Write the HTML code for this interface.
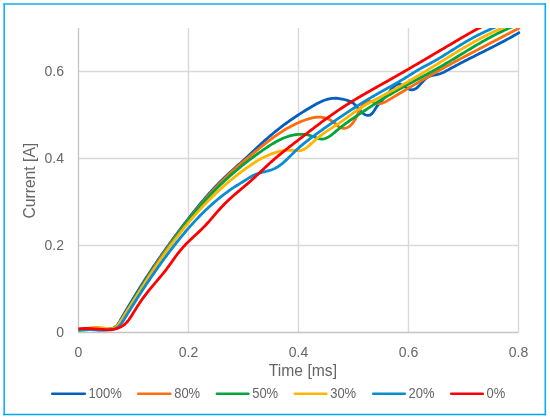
<!DOCTYPE html>
<html><head><meta charset="utf-8"><style>
html,body{margin:0;padding:0;background:#fff;}
svg{display:block;}
text{font-family:"Liberation Sans",sans-serif;fill:#666666;}
.t{font-size:14px;}
.ti{font-size:15.7px;}
.lg{font-size:13.8px;}
</style></head><body>
<svg width="550" height="420" viewBox="0 0 550 420">
<rect x="0" y="0" width="550" height="420" fill="#fff"/>
<line x1="188.5" y1="28" x2="188.5" y2="332.5" stroke="#D9D9D9" stroke-width="1.4"/><line x1="298.5" y1="28" x2="298.5" y2="332.5" stroke="#D9D9D9" stroke-width="1.4"/><line x1="408.5" y1="28" x2="408.5" y2="332.5" stroke="#D9D9D9" stroke-width="1.4"/><line x1="518.5" y1="28" x2="518.5" y2="332.5" stroke="#D9D9D9" stroke-width="1.4"/><line x1="78.5" y1="71.5" x2="518.5" y2="71.5" stroke="#D9D9D9" stroke-width="1.4"/><line x1="78.5" y1="158.5" x2="518.5" y2="158.5" stroke="#D9D9D9" stroke-width="1.4"/><line x1="78.5" y1="245.5" x2="518.5" y2="245.5" stroke="#D9D9D9" stroke-width="1.4"/><line x1="78.5" y1="28" x2="78.5" y2="332.5" stroke="#C4C4C4" stroke-width="1.3"/><line x1="78.5" y1="332.5" x2="518.5" y2="332.5" stroke="#C4C4C4" stroke-width="1.3"/>
<clipPath id="c"><rect x="78" y="28" width="442.5" height="306"/></clipPath>
<g clip-path="url(#c)"><path d="M78.49,329.37L80.02,329.28L81.53,329.22L83.02,329.20L84.49,329.20L85.94,329.23L87.38,329.27L88.81,329.33L90.24,329.40L91.66,329.48L93.07,329.56L94.49,329.63L95.92,329.70L97.35,329.76L98.79,329.80L100.24,329.83L101.71,329.83L103.19,329.80L104.70,329.74L106.21,329.64L107.73,329.48L109.23,329.26L110.69,328.95L112.10,328.54L113.45,328.03L114.71,327.38L115.86,326.60L116.88,325.67L117.76,324.57L118.53,323.35L119.27,322.10L120.01,320.84L120.75,319.58L121.49,318.32L122.22,317.06L122.96,315.80L123.70,314.54L124.44,313.27L125.17,312.01L125.91,310.75L126.66,309.48L127.40,308.22L128.14,306.96L128.89,305.70L129.64,304.44L130.39,303.18L131.14,301.92L131.89,300.67L132.65,299.42L133.41,298.16L134.17,296.91L134.93,295.67L135.69,294.42L136.46,293.17L137.23,291.93L138.00,290.69L138.78,289.44L139.55,288.21L140.33,286.97L141.11,285.73L141.89,284.50L142.68,283.26L143.46,282.03L144.25,280.80L145.04,279.57L145.84,278.34L146.63,277.12L147.43,275.89L148.23,274.67L149.03,273.45L149.83,272.23L150.64,271.01L151.45,269.79L152.26,268.58L153.07,267.36L153.88,266.15L154.70,264.94L155.52,263.73L156.34,262.52L157.16,261.32L157.99,260.11L158.82,258.91L159.64,257.71L160.48,256.50L161.31,255.31L162.14,254.11L162.98,252.91L163.82,251.72L164.66,250.52L165.51,249.33L166.35,248.14L167.20,246.95L168.05,245.76L168.91,244.58L169.76,243.39L170.62,242.21L171.48,241.03L172.34,239.85L173.20,238.67L174.06,237.49L174.93,236.31L175.80,235.14L176.67,233.97L177.54,232.79L178.42,231.62L179.30,230.45L180.18,229.29L181.06,228.12L181.94,226.95L182.83,225.79L183.72,224.63L184.61,223.47L185.50,222.31L186.39,221.15L187.29,219.99L188.19,218.84L189.09,217.69L189.99,216.53L190.89,215.38L191.80,214.24L192.71,213.09L193.62,211.95L194.54,210.80L195.46,209.66L196.38,208.53L197.30,207.39L198.23,206.26L199.16,205.13L200.09,204.01L201.03,202.88L201.97,201.76L202.92,200.65L203.87,199.54L204.82,198.43L205.77,197.32L206.73,196.22L207.70,195.12L208.67,194.03L209.64,192.94L210.62,191.85L211.60,190.77L212.59,189.70L213.58,188.63L214.58,187.56L215.58,186.50L216.59,185.44L217.60,184.39L218.61,183.35L219.64,182.31L220.66,181.27L221.70,180.24L222.74,179.22L223.78,178.20L224.83,177.19L225.89,176.19L226.95,175.19L228.02,174.19L229.09,173.20L230.17,172.22L231.25,171.24L232.33,170.26L233.42,169.28L234.51,168.31L235.60,167.34L236.69,166.37L237.78,165.40L238.88,164.42L239.97,163.45L241.06,162.48L242.15,161.51L243.24,160.53L244.33,159.55L245.41,158.57L246.49,157.58L247.57,156.59L248.65,155.59L249.72,154.60L250.79,153.59L251.86,152.59L252.92,151.58L253.99,150.58L255.05,149.57L256.12,148.57L257.18,147.56L258.25,146.56L259.32,145.56L260.39,144.56L261.46,143.57L262.54,142.58L263.62,141.59L264.70,140.62L265.79,139.65L266.88,138.68L267.98,137.72L269.08,136.77L270.19,135.83L271.30,134.89L272.42,133.96L273.54,133.03L274.67,132.11L275.80,131.20L276.93,130.29L278.08,129.39L279.22,128.49L280.37,127.61L281.53,126.72L282.69,125.85L283.85,124.98L285.02,124.11L286.20,123.25L287.38,122.40L288.56,121.55L289.75,120.71L290.94,119.87L292.14,119.04L293.35,118.22L294.55,117.40L295.77,116.59L296.99,115.78L298.21,114.97L299.44,114.18L300.67,113.39L301.91,112.60L303.15,111.82L304.40,111.04L305.65,110.27L306.91,109.50L308.17,108.74L309.44,107.99L310.72,107.24L311.99,106.49L313.28,105.75L314.56,105.02L315.86,104.30L317.16,103.60L318.47,102.92L319.78,102.27L321.11,101.65L322.44,101.07L323.78,100.53L325.13,100.03L326.49,99.59L327.86,99.20L329.24,98.87L330.63,98.60L332.03,98.41L333.45,98.28L334.88,98.24L336.32,98.27L337.77,98.38L339.23,98.56L340.69,98.79L342.15,99.08L343.61,99.40L345.05,99.76L346.49,100.15L347.91,100.57L349.29,101.05L350.62,101.59L351.89,102.24L353.08,103.00L354.19,103.89L355.23,104.89L356.21,105.97L357.16,107.12L358.11,108.29L359.06,109.46L360.03,110.61L361.06,111.71L362.15,112.72L363.33,113.63L364.60,114.41L365.93,115.00L367.27,115.35L368.57,115.42L369.79,115.15L370.90,114.54L371.93,113.65L372.88,112.55L373.78,111.30L374.65,109.97L375.50,108.61L376.35,107.31L377.21,106.08L378.08,104.92L378.96,103.82L379.86,102.75L380.77,101.71L381.69,100.69L382.63,99.67L383.58,98.64L384.55,97.58L385.53,96.49L386.52,95.35L387.53,94.14L388.56,92.87L389.60,91.54L390.66,90.20L391.74,88.90L392.84,87.67L393.95,86.55L395.09,85.60L396.24,84.85L397.41,84.33L398.61,84.11L399.83,84.21L401.07,84.60L402.34,85.22L403.64,85.98L404.96,86.81L406.31,87.64L407.66,88.42L409.02,89.08L410.35,89.56L411.67,89.81L412.94,89.77L414.17,89.43L415.37,88.85L416.54,88.06L417.67,87.10L418.78,86.02L419.86,84.86L420.92,83.66L421.97,82.47L423.01,81.32L424.05,80.23L425.10,79.22L426.19,78.30L427.32,77.48L428.52,76.77L429.79,76.19L431.14,75.73L432.55,75.37L434.01,75.07L435.48,74.80L436.96,74.52L438.42,74.20L439.84,73.80L441.21,73.32L442.55,72.77L443.86,72.17L445.14,71.52L446.41,70.83L447.67,70.14L448.93,69.43L450.19,68.74L451.46,68.04L452.73,67.35L454.00,66.67L455.28,65.98L456.56,65.30L457.84,64.62L459.12,63.95L460.41,63.28L461.70,62.61L462.99,61.94L464.29,61.27L465.58,60.61L466.88,59.94L468.18,59.28L469.48,58.62L470.79,57.97L472.09,57.31L473.39,56.65L474.70,55.99L476.01,55.34L477.31,54.68L478.62,54.03L479.93,53.37L481.24,52.72L482.55,52.06L483.86,51.41L485.17,50.75L486.47,50.09L487.78,49.43L489.09,48.77L490.40,48.11L491.70,47.45L493.01,46.79L494.31,46.12L495.62,45.45L496.92,44.78L498.22,44.11L499.52,43.43L500.81,42.75L502.11,42.07L503.40,41.39L504.69,40.70L505.98,40.01L507.26,39.32L508.55,38.62L509.83,37.92L511.10,37.21L512.38,36.50L513.65,35.79L514.92,35.07L516.18,34.35L517.44,33.62L518.70,32.89L519.95,32.15" fill="none" stroke="#005FBF" stroke-width="2.8" stroke-linejoin="round" stroke-linecap="butt"/><path d="M78.48,328.97L79.99,329.05L81.46,329.07L82.92,329.02L84.36,328.92L85.78,328.78L87.19,328.61L88.59,328.43L89.99,328.24L91.39,328.06L92.79,327.90L94.20,327.76L95.62,327.68L97.06,327.64L98.51,327.67L99.99,327.78L101.49,327.97L103.01,328.20L104.53,328.44L106.03,328.65L107.52,328.79L108.97,328.81L110.37,328.68L111.73,328.40L113.03,327.99L114.28,327.44L115.48,326.79L116.61,326.03L117.69,325.19L118.71,324.27L119.66,323.29L120.57,322.25L121.43,321.15L122.26,320.01L123.05,318.82L123.81,317.61L124.55,316.37L125.28,315.11L125.99,313.84L126.70,312.56L127.42,311.29L128.13,310.02L128.85,308.75L129.57,307.48L130.29,306.21L131.01,304.95L131.74,303.69L132.46,302.43L133.19,301.17L133.93,299.92L134.66,298.66L135.40,297.41L136.14,296.16L136.88,294.91L137.62,293.67L138.36,292.42L139.11,291.18L139.86,289.94L140.61,288.71L141.37,287.47L142.12,286.24L142.88,285.01L143.64,283.78L144.41,282.55L145.17,281.32L145.94,280.10L146.71,278.88L147.48,277.66L148.25,276.44L149.03,275.23L149.81,274.01L150.59,272.80L151.37,271.59L152.16,270.38L152.95,269.17L153.74,267.97L154.53,266.77L155.32,265.57L156.12,264.37L156.92,263.17L157.72,261.98L158.53,260.78L159.33,259.59L160.14,258.40L160.95,257.21L161.76,256.03L162.58,254.84L163.40,253.66L164.22,252.48L165.04,251.30L165.86,250.12L166.69,248.95L167.52,247.77L168.35,246.60L169.19,245.43L170.02,244.26L170.86,243.09L171.70,241.93L172.54,240.76L173.39,239.60L174.24,238.44L175.09,237.28L175.94,236.13L176.80,234.97L177.66,233.82L178.52,232.67L179.38,231.52L180.24,230.37L181.11,229.22L181.98,228.08L182.85,226.93L183.73,225.79L184.60,224.65L185.48,223.51L186.36,222.37L187.25,221.24L188.14,220.10L189.02,218.97L189.92,217.84L190.81,216.71L191.71,215.58L192.61,214.46L193.51,213.33L194.41,212.21L195.32,211.09L196.23,209.97L197.15,208.86L198.06,207.75L198.98,206.64L199.91,205.53L200.83,204.43L201.76,203.32L202.70,202.23L203.63,201.13L204.57,200.04L205.52,198.95L206.47,197.86L207.42,196.78L208.37,195.70L209.33,194.63L210.29,193.55L211.26,192.48L212.23,191.42L213.21,190.36L214.19,189.30L215.17,188.25L216.16,187.20L217.15,186.16L218.14,185.12L219.15,184.08L220.15,183.05L221.16,182.03L222.18,181.00L223.20,179.99L224.22,178.98L225.25,177.97L226.28,176.97L227.32,175.97L228.37,174.98L229.41,173.99L230.47,173.01L231.53,172.04L232.59,171.06L233.65,170.10L234.72,169.13L235.80,168.17L236.88,167.22L237.96,166.26L239.04,165.32L240.13,164.37L241.22,163.43L242.31,162.49L243.41,161.55L244.51,160.62L245.61,159.69L246.71,158.76L247.81,157.83L248.92,156.91L250.03,155.99L251.14,155.06L252.25,154.15L253.36,153.23L254.47,152.31L255.58,151.39L256.70,150.48L257.81,149.57L258.93,148.66L260.04,147.75L261.16,146.84L262.29,145.94L263.41,145.04L264.54,144.15L265.67,143.26L266.80,142.38L267.94,141.50L269.08,140.62L270.22,139.76L271.37,138.90L272.53,138.05L273.69,137.21L274.85,136.37L276.02,135.54L277.20,134.73L278.38,133.92L279.57,133.12L280.77,132.34L281.97,131.56L283.18,130.80L284.40,130.04L285.63,129.30L286.86,128.57L288.11,127.86L289.36,127.16L290.62,126.47L291.89,125.80L293.17,125.14L294.46,124.50L295.76,123.88L297.07,123.27L298.40,122.68L299.73,122.10L301.07,121.54L302.43,121.00L303.80,120.48L305.18,119.98L306.57,119.50L307.97,119.06L309.38,118.64L310.79,118.27L312.21,117.94L313.62,117.66L315.04,117.43L316.46,117.26L317.87,117.16L319.28,117.13L320.68,117.18L322.08,117.30L323.46,117.51L324.83,117.81L326.19,118.21L327.53,118.70L328.85,119.29L330.14,119.97L331.41,120.72L332.65,121.55L333.85,122.44L335.01,123.38L336.12,124.38L337.20,125.39L338.29,126.34L339.44,127.16L340.69,127.77L342.02,128.16L343.40,128.32L344.79,128.27L346.15,128.00L347.45,127.53L348.69,126.87L349.85,126.04L350.94,125.07L351.96,123.99L352.91,122.81L353.79,121.57L354.61,120.28L355.36,118.98L356.04,117.69L356.65,116.42L357.23,115.18L357.77,113.96L358.32,112.73L358.88,111.50L359.48,110.25L360.15,108.98L360.89,107.67L361.73,106.34L362.65,105.06L363.66,103.87L364.75,102.83L365.92,101.99L367.17,101.39L368.48,101.11L369.87,101.17L371.32,101.56L372.80,102.12L374.28,102.74L375.75,103.27L377.19,103.61L378.58,103.73L379.94,103.66L381.27,103.43L382.57,103.06L383.85,102.56L385.11,101.98L386.36,101.32L387.60,100.61L388.84,99.87L390.07,99.13L391.31,98.39L392.54,97.65L393.78,96.91L395.01,96.17L396.25,95.43L397.48,94.69L398.72,93.95L399.95,93.21L401.19,92.47L402.42,91.74L403.66,91.00L404.90,90.26L406.14,89.53L407.37,88.79L408.61,88.06L409.85,87.32L411.09,86.59L412.33,85.86L413.57,85.13L414.81,84.40L416.05,83.67L417.29,82.94L418.53,82.22L419.78,81.49L421.02,80.77L422.26,80.04L423.51,79.32L424.75,78.60L426.00,77.88L427.25,77.16L428.50,76.45L429.75,75.73L431.00,75.02L432.25,74.31L433.50,73.60L434.75,72.89L436.00,72.18L437.26,71.47L438.51,70.77L439.77,70.07L441.03,69.37L442.29,68.67L443.55,67.97L444.81,67.28L446.07,66.59L447.33,65.89L448.59,65.20L449.86,64.51L451.12,63.83L452.39,63.14L453.66,62.46L454.92,61.77L456.19,61.09L457.46,60.41L458.73,59.73L460.00,59.05L461.27,58.37L462.54,57.70L463.81,57.02L465.09,56.35L466.36,55.67L467.63,55.00L468.91,54.33L470.18,53.66L471.46,52.99L472.73,52.32L474.01,51.65L475.28,50.98L476.56,50.32L477.84,49.65L479.11,48.98L480.39,48.32L481.67,47.65L482.94,46.98L484.22,46.32L485.50,45.65L486.78,44.99L488.06,44.33L489.34,43.66L490.61,43.00L491.89,42.33L493.17,41.67L494.45,41.01L495.73,40.34L497.01,39.68L498.28,39.01L499.56,38.35L500.84,37.68L502.12,37.02L503.40,36.35L504.67,35.69L505.95,35.02L507.23,34.35L508.50,33.69L509.78,33.02L511.06,32.35L512.33,31.68L513.61,31.01L514.88,30.34L516.16,29.67L517.43,29.00L518.70,28.33L519.98,27.65" fill="none" stroke="#FF6D0C" stroke-width="2.8" stroke-linejoin="round" stroke-linecap="butt"/><path d="M78.48,330.45L79.95,330.33L81.39,330.21L82.80,330.10L84.20,329.99L85.59,329.89L86.97,329.80L88.34,329.71L89.70,329.63L91.07,329.56L92.44,329.50L93.82,329.45L95.21,329.41L96.62,329.38L98.05,329.36L99.50,329.35L100.97,329.36L102.47,329.37L103.97,329.37L105.47,329.34L106.95,329.28L108.42,329.17L109.84,329.00L111.22,328.75L112.55,328.41L113.80,327.96L114.98,327.40L116.10,326.74L117.14,325.99L118.13,325.14L119.06,324.21L119.95,323.22L120.79,322.16L121.59,321.04L122.36,319.87L123.11,318.66L123.83,317.43L124.53,316.16L125.23,314.89L125.91,313.60L126.60,312.31L127.29,311.03L127.99,309.76L128.69,308.49L129.39,307.24L130.10,305.98L130.81,304.74L131.53,303.50L132.25,302.27L132.97,301.04L133.70,299.82L134.43,298.60L135.16,297.39L135.90,296.19L136.64,294.98L137.38,293.79L138.13,292.59L138.88,291.40L139.63,290.22L140.38,289.04L141.14,287.86L141.90,286.68L142.66,285.50L143.42,284.33L144.19,283.16L144.96,281.99L145.72,280.83L146.50,279.66L147.27,278.50L148.04,277.33L148.82,276.17L149.60,275.01L150.37,273.85L151.15,272.68L151.93,271.52L152.71,270.36L153.49,269.19L154.28,268.02L155.06,266.86L155.84,265.69L156.63,264.52L157.42,263.35L158.20,262.19L158.99,261.02L159.78,259.85L160.57,258.68L161.36,257.51L162.16,256.34L162.95,255.17L163.75,254.00L164.55,252.83L165.35,251.67L166.15,250.50L166.95,249.33L167.76,248.17L168.57,247.00L169.38,245.84L170.19,244.68L171.00,243.52L171.82,242.36L172.64,241.20L173.46,240.05L174.29,238.90L175.11,237.74L175.94,236.59L176.77,235.45L177.61,234.30L178.45,233.16L179.29,232.02L180.13,230.88L180.98,229.75L181.83,228.61L182.68,227.49L183.53,226.36L184.39,225.24L185.26,224.12L186.12,223.00L186.99,221.89L187.87,220.78L188.74,219.67L189.63,218.57L190.51,217.47L191.40,216.38L192.29,215.29L193.19,214.20L194.09,213.12L194.99,212.04L195.90,210.96L196.81,209.89L197.73,208.82L198.65,207.76L199.57,206.70L200.50,205.64L201.43,204.59L202.36,203.54L203.30,202.50L204.24,201.46L205.19,200.42L206.14,199.39L207.09,198.36L208.05,197.33L209.01,196.31L209.98,195.30L210.95,194.28L211.93,193.27L212.90,192.27L213.89,191.27L214.87,190.27L215.86,189.28L216.86,188.29L217.86,187.30L218.86,186.32L219.87,185.35L220.88,184.37L221.89,183.40L222.91,182.44L223.93,181.48L224.96,180.52L225.99,179.57L227.03,178.62L228.07,177.67L229.11,176.73L230.16,175.80L231.21,174.87L232.27,173.94L233.33,173.01L234.39,172.09L235.46,171.18L236.54,170.27L237.61,169.36L238.70,168.46L239.78,167.56L240.87,166.66L241.97,165.77L243.07,164.88L244.17,164.00L245.28,163.12L246.39,162.25L247.51,161.38L248.63,160.51L249.75,159.65L250.88,158.80L252.01,157.94L253.15,157.10L254.30,156.25L255.44,155.41L256.59,154.58L257.75,153.75L258.91,152.92L260.08,152.10L261.25,151.28L262.42,150.46L263.60,149.65L264.78,148.85L265.97,148.05L267.16,147.25L268.36,146.47L269.56,145.69L270.77,144.93L271.98,144.17L273.20,143.43L274.42,142.71L275.66,142.01L276.89,141.32L278.14,140.66L279.39,140.02L280.65,139.41L281.91,138.82L283.19,138.26L284.47,137.73L285.76,137.23L287.05,136.76L288.36,136.33L289.67,135.94L290.99,135.58L292.32,135.27L293.67,134.99L295.02,134.76L296.38,134.58L297.74,134.44L299.12,134.35L300.51,134.31L301.91,134.32L303.32,134.38L304.73,134.51L306.15,134.69L307.56,134.93L308.98,135.23L310.38,135.60L311.78,136.03L313.17,136.53L314.54,137.07L315.90,137.61L317.25,138.11L318.58,138.54L319.90,138.86L321.20,139.03L322.48,139.02L323.74,138.85L324.99,138.54L326.22,138.09L327.43,137.52L328.63,136.86L329.82,136.11L330.99,135.28L332.14,134.41L333.29,133.49L334.42,132.55L335.54,131.60L336.65,130.66L337.75,129.73L338.85,128.83L339.93,127.94L341.02,127.07L342.12,126.22L343.22,125.37L344.32,124.54L345.44,123.71L346.57,122.89L347.71,122.07L348.86,121.26L350.01,120.46L351.17,119.66L352.33,118.87L353.50,118.08L354.67,117.29L355.84,116.50L357.02,115.72L358.19,114.93L359.36,114.15L360.54,113.37L361.71,112.59L362.89,111.81L364.06,111.03L365.23,110.25L366.40,109.47L367.58,108.69L368.75,107.92L369.92,107.14L371.10,106.37L372.28,105.60L373.45,104.83L374.63,104.07L375.81,103.31L376.99,102.55L378.17,101.79L379.36,101.04L380.54,100.29L381.73,99.54L382.92,98.80L384.11,98.06L385.31,97.33L386.51,96.60L387.71,95.87L388.91,95.15L390.12,94.43L391.33,93.72L392.54,93.01L393.76,92.31L394.98,91.61L396.20,90.92L397.42,90.23L398.65,89.54L399.88,88.85L401.11,88.17L402.34,87.49L403.58,86.82L404.81,86.14L406.05,85.47L407.29,84.80L408.53,84.13L409.77,83.47L411.01,82.80L412.25,82.14L413.49,81.47L414.74,80.81L415.98,80.14L417.23,79.48L418.47,78.82L419.71,78.16L420.96,77.49L422.20,76.83L423.44,76.16L424.69,75.49L425.93,74.83L427.17,74.16L428.41,73.48L429.65,72.81L430.88,72.13L432.12,71.46L433.36,70.77L434.59,70.09L435.82,69.40L437.05,68.71L438.27,68.02L439.50,67.32L440.72,66.62L441.94,65.91L443.16,65.20L444.37,64.49L445.59,63.77L446.80,63.05L448.01,62.33L449.22,61.61L450.43,60.89L451.64,60.16L452.84,59.43L454.05,58.70L455.25,57.97L456.46,57.24L457.66,56.50L458.86,55.77L460.07,55.03L461.27,54.30L462.47,53.57L463.67,52.83L464.88,52.10L466.08,51.37L467.28,50.64L468.49,49.91L469.70,49.18L470.90,48.45L472.11,47.73L473.32,47.01L474.53,46.29L475.74,45.57L476.95,44.85L478.17,44.14L479.38,43.44L480.60,42.73L481.82,42.03L483.04,41.33L484.27,40.64L485.50,39.95L486.73,39.27L487.96,38.59L489.20,37.92L490.44,37.25L491.68,36.59L492.92,35.93L494.17,35.28L495.42,34.63L496.68,34.00L497.94,33.37L499.20,32.74L500.47,32.12L501.74,31.51L503.02,30.91L504.30,30.32L505.58,29.73L506.87,29.15L508.17,28.58L509.46,28.02L510.77,27.47L512.08,26.93L513.39,26.39L514.71,25.87L516.04,25.35L517.37,24.85L518.71,24.36" fill="none" stroke="#00A53C" stroke-width="2.8" stroke-linejoin="round" stroke-linecap="butt"/><path d="M78.49,329.03L79.93,329.00L81.34,328.94L82.73,328.86L84.09,328.75L85.44,328.63L86.77,328.50L88.10,328.38L89.42,328.25L90.74,328.13L92.07,328.03L93.40,327.95L94.74,327.90L96.10,327.88L97.47,327.90L98.87,327.96L100.30,328.07L101.75,328.23L103.22,328.41L104.69,328.59L106.16,328.75L107.62,328.87L109.06,328.92L110.47,328.87L111.83,328.72L113.12,328.45L114.35,328.04L115.47,327.48L116.49,326.75L117.41,325.86L118.23,324.84L119.00,323.74L119.74,322.60L120.47,321.44L121.20,320.29L121.93,319.13L122.66,317.97L123.39,316.82L124.12,315.66L124.85,314.50L125.58,313.34L126.31,312.19L127.04,311.03L127.77,309.87L128.50,308.71L129.23,307.55L129.96,306.39L130.70,305.23L131.43,304.08L132.16,302.92L132.89,301.76L133.62,300.60L134.35,299.44L135.09,298.28L135.82,297.13L136.56,295.97L137.29,294.81L138.03,293.65L138.76,292.50L139.50,291.34L140.24,290.18L140.98,289.03L141.72,287.87L142.46,286.72L143.20,285.57L143.95,284.41L144.69,283.26L145.44,282.11L146.19,280.96L146.93,279.81L147.68,278.66L148.43,277.51L149.19,276.37L149.94,275.22L150.70,274.08L151.46,272.93L152.21,271.79L152.98,270.65L153.74,269.51L154.50,268.37L155.27,267.23L156.04,266.10L156.81,264.96L157.58,263.83L158.35,262.69L159.13,261.56L159.91,260.43L160.69,259.31L161.47,258.18L162.26,257.06L163.05,255.93L163.84,254.81L164.63,253.69L165.42,252.58L166.22,251.46L167.02,250.35L167.82,249.23L168.63,248.12L169.44,247.02L170.25,245.91L171.06,244.81L171.88,243.70L172.70,242.61L173.52,241.51L174.35,240.41L175.17,239.32L176.01,238.23L176.84,237.14L177.68,236.06L178.52,234.97L179.37,233.89L180.21,232.81L181.06,231.74L181.92,230.67L182.78,229.59L183.64,228.53L184.50,227.46L185.37,226.40L186.24,225.34L187.11,224.29L187.99,223.23L188.87,222.18L189.76,221.13L190.64,220.09L191.54,219.05L192.43,218.01L193.33,216.98L194.23,215.95L195.14,214.92L196.05,213.89L196.96,212.87L197.88,211.85L198.80,210.84L199.72,209.83L200.65,208.82L201.58,207.82L202.52,206.82L203.46,205.82L204.40,204.83L205.35,203.84L206.30,202.85L207.26,201.87L208.21,200.89L209.18,199.92L210.14,198.95L211.12,197.99L212.09,197.03L213.07,196.07L214.05,195.12L215.04,194.17L216.03,193.22L217.03,192.28L218.03,191.35L219.03,190.42L220.04,189.49L221.05,188.57L222.07,187.65L223.09,186.74L224.11,185.83L225.14,184.92L226.17,184.03L227.21,183.13L228.25,182.24L229.30,181.36L230.35,180.48L231.41,179.60L232.47,178.73L233.53,177.87L234.60,177.01L235.67,176.15L236.75,175.30L237.83,174.46L238.92,173.62L240.01,172.79L241.11,171.96L242.21,171.14L243.32,170.32L244.43,169.51L245.54,168.70L246.66,167.90L247.79,167.10L248.92,166.32L250.05,165.53L251.20,164.76L252.34,164.00L253.49,163.24L254.65,162.50L255.82,161.77L256.99,161.05L258.17,160.35L259.35,159.66L260.54,158.99L261.74,158.34L262.95,157.70L264.16,157.08L265.38,156.48L266.62,155.90L267.86,155.35L269.10,154.81L270.36,154.30L271.63,153.82L272.90,153.36L274.19,152.93L275.48,152.52L276.79,152.14L278.10,151.79L279.43,151.48L280.76,151.19L282.11,150.94L283.47,150.72L284.84,150.54L286.21,150.40L287.60,150.31L288.99,150.27L290.39,150.29L291.79,150.37L293.20,150.47L294.59,150.58L295.97,150.66L297.34,150.70L298.67,150.68L299.98,150.55L301.24,150.31L302.47,149.94L303.65,149.43L304.80,148.82L305.93,148.11L307.02,147.32L308.09,146.46L309.15,145.56L310.20,144.63L311.23,143.68L312.27,142.72L313.30,141.78L314.34,140.86L315.38,139.94L316.42,139.04L317.47,138.16L318.53,137.29L319.59,136.44L320.67,135.60L321.76,134.78L322.85,133.98L323.96,133.18L325.08,132.41L326.21,131.64L327.34,130.88L328.48,130.13L329.63,129.38L330.77,128.64L331.93,127.90L333.08,127.17L334.23,126.43L335.38,125.68L336.53,124.94L337.67,124.19L338.82,123.43L339.95,122.66L341.08,121.88L342.20,121.09L343.32,120.29L344.43,119.48L345.54,118.67L346.64,117.86L347.74,117.04L348.85,116.22L349.95,115.40L351.05,114.58L352.16,113.77L353.27,112.96L354.38,112.16L355.49,111.36L356.61,110.57L357.74,109.80L358.87,109.04L360.01,108.29L361.16,107.55L362.32,106.83L363.49,106.13L364.66,105.43L365.84,104.75L367.03,104.08L368.22,103.41L369.42,102.76L370.62,102.11L371.82,101.47L373.03,100.83L374.24,100.19L375.45,99.56L376.66,98.93L377.87,98.30L379.08,97.67L380.29,97.03L381.50,96.40L382.70,95.76L383.91,95.12L385.11,94.48L386.32,93.83L387.52,93.19L388.72,92.54L389.92,91.88L391.12,91.23L392.32,90.57L393.51,89.91L394.71,89.25L395.90,88.59L397.09,87.93L398.29,87.26L399.48,86.59L400.67,85.92L401.85,85.25L403.04,84.57L404.23,83.89L405.41,83.21L406.60,82.53L407.78,81.85L408.96,81.16L410.14,80.48L411.33,79.79L412.50,79.10L413.68,78.40L414.86,77.71L416.04,77.01L417.21,76.31L418.39,75.61L419.56,74.91L420.74,74.21L421.91,73.50L423.08,72.80L424.25,72.09L425.42,71.38L426.59,70.67L427.76,69.95L428.93,69.24L430.10,68.52L431.26,67.81L432.43,67.09L433.59,66.37L434.76,65.64L435.92,64.92L437.09,64.20L438.25,63.47L439.41,62.75L440.58,62.03L441.74,61.30L442.91,60.58L444.07,59.85L445.24,59.13L446.40,58.41L447.57,57.68L448.73,56.96L449.90,56.24L451.06,55.52L452.23,54.80L453.40,54.09L454.57,53.37L455.74,52.66L456.91,51.94L458.09,51.23L459.26,50.53L460.43,49.82L461.61,49.12L462.79,48.42L463.97,47.72L465.15,47.03L466.33,46.33L467.52,45.65L468.71,44.96L469.89,44.28L471.08,43.60L472.28,42.93L473.47,42.26L474.67,41.60L475.87,40.93L477.07,40.28L478.28,39.63L479.48,38.98L480.69,38.34L481.91,37.70L483.12,37.07L484.34,36.44L485.56,35.82L486.79,35.20L488.01,34.60L489.24,33.99L490.48,33.39L491.72,32.80L492.96,32.22L494.20,31.64L495.45,31.07L496.70,30.51L497.96,29.95L499.22,29.40L500.48,28.86L501.75,28.32L503.02,27.80L504.29,27.28L505.57,26.76L506.86,26.26L508.15,25.77" fill="none" stroke="#FFB600" stroke-width="2.8" stroke-linejoin="round" stroke-linecap="butt"/><path d="M78.53,329.61L79.89,329.54L81.24,329.50L82.58,329.48L83.91,329.47L85.24,329.49L86.57,329.51L87.89,329.55L89.21,329.60L90.53,329.65L91.85,329.72L93.17,329.78L94.50,329.84L95.83,329.90L97.18,329.96L98.52,330.02L99.88,330.06L101.25,330.09L102.63,330.11L104.03,330.12L105.44,330.11L106.86,330.08L108.30,330.02L109.72,329.91L111.13,329.75L112.49,329.51L113.79,329.18L115.03,328.74L116.18,328.19L117.25,327.53L118.26,326.78L119.20,325.94L120.08,325.02L120.92,324.04L121.72,323.00L122.49,321.92L123.23,320.80L123.95,319.66L124.66,318.50L125.37,317.35L126.08,316.19L126.79,315.03L127.50,313.88L128.21,312.72L128.93,311.57L129.64,310.42L130.35,309.27L131.07,308.12L131.78,306.98L132.50,305.83L133.22,304.69L133.94,303.55L134.66,302.41L135.38,301.27L136.10,300.13L136.83,298.99L137.55,297.86L138.28,296.73L139.01,295.59L139.74,294.46L140.47,293.33L141.20,292.21L141.93,291.08L142.67,289.96L143.40,288.83L144.14,287.71L144.88,286.59L145.62,285.47L146.36,284.35L147.11,283.24L147.86,282.12L148.60,281.01L149.35,279.90L150.11,278.79L150.86,277.68L151.62,276.57L152.37,275.47L153.13,274.36L153.90,273.26L154.66,272.16L155.43,271.06L156.20,269.96L156.97,268.86L157.74,267.77L158.52,266.67L159.29,265.58L160.07,264.49L160.86,263.40L161.64,262.31L162.43,261.22L163.22,260.14L164.01,259.05L164.81,257.97L165.61,256.89L166.41,255.81L167.21,254.73L168.02,253.65L168.83,252.58L169.64,251.50L170.46,250.43L171.27,249.36L172.10,248.29L172.92,247.22L173.75,246.16L174.58,245.09L175.41,244.03L176.25,242.97L177.09,241.91L177.93,240.86L178.78,239.80L179.63,238.75L180.48,237.71L181.34,236.66L182.20,235.62L183.06,234.58L183.93,233.54L184.80,232.51L185.68,231.48L186.56,230.45L187.44,229.43L188.33,228.41L189.22,227.39L190.11,226.38L191.01,225.37L191.92,224.37L192.82,223.37L193.73,222.37L194.65,221.38L195.57,220.39L196.49,219.41L197.42,218.43L198.36,217.45L199.29,216.49L200.23,215.52L201.18,214.56L202.13,213.61L203.09,212.66L204.05,211.72L205.01,210.78L205.98,209.85L206.96,208.92L207.94,208.00L208.92,207.09L209.91,206.18L210.91,205.28L211.91,204.38L212.91,203.49L213.92,202.61L214.94,201.74L215.96,200.87L216.99,200.00L218.02,199.15L219.05,198.30L220.10,197.46L221.14,196.62L222.20,195.79L223.26,194.97L224.32,194.16L225.39,193.36L226.47,192.56L227.55,191.77L228.64,190.99L229.73,190.22L230.83,189.45L231.94,188.69L233.05,187.95L234.16,187.21L235.29,186.47L236.42,185.75L237.55,185.04L238.69,184.32L239.83,183.62L240.98,182.91L242.12,182.20L243.26,181.50L244.41,180.78L245.55,180.07L246.68,179.34L247.82,178.62L248.96,177.90L250.10,177.19L251.26,176.51L252.43,175.86L253.62,175.25L254.84,174.68L256.08,174.17L257.34,173.71L258.62,173.29L259.92,172.91L261.24,172.55L262.56,172.21L263.88,171.89L265.20,171.56L266.52,171.24L267.83,170.90L269.13,170.54L270.41,170.16L271.67,169.74L272.91,169.28L274.12,168.77L275.30,168.20L276.45,167.59L277.58,166.93L278.68,166.23L279.76,165.49L280.82,164.71L281.86,163.90L282.89,163.05L283.89,162.18L284.89,161.29L285.88,160.38L286.85,159.45L287.82,158.50L288.79,157.54L289.75,156.58L290.71,155.61L291.67,154.64L292.63,153.68L293.59,152.71L294.56,151.76L295.54,150.82L296.53,149.89L297.53,148.97L298.53,148.07L299.54,147.17L300.56,146.29L301.59,145.42L302.62,144.56L303.66,143.70L304.71,142.86L305.76,142.02L306.81,141.19L307.87,140.37L308.93,139.55L310.00,138.74L311.07,137.93L312.15,137.13L313.23,136.34L314.31,135.54L315.39,134.75L316.48,133.96L317.56,133.17L318.65,132.39L319.74,131.60L320.83,130.82L321.92,130.03L323.01,129.25L324.10,128.47L325.20,127.69L326.29,126.91L327.39,126.13L328.48,125.36L329.58,124.58L330.68,123.81L331.78,123.03L332.88,122.26L333.99,121.49L335.09,120.73L336.20,119.96L337.31,119.20L338.41,118.44L339.52,117.67L340.64,116.92L341.75,116.16L342.86,115.41L343.98,114.65L345.10,113.90L346.22,113.16L347.34,112.41L348.46,111.67L349.58,110.93L350.71,110.19L351.84,109.45L352.97,108.72L354.10,107.99L355.23,107.26L356.36,106.54L357.50,105.82L358.64,105.10L359.78,104.38L360.92,103.67L362.06,102.96L363.21,102.25L364.35,101.55L365.50,100.85L366.66,100.15L367.81,99.46L368.96,98.77L370.12,98.08L371.28,97.40L372.44,96.72L373.61,96.04L374.77,95.37L375.94,94.70L377.11,94.03L378.28,93.37L379.45,92.70L380.62,92.04L381.79,91.38L382.97,90.72L384.14,90.07L385.31,89.41L386.49,88.75L387.66,88.09L388.83,87.44L390.01,86.78L391.18,86.12L392.35,85.46L393.52,84.79L394.69,84.13L395.85,83.46L397.02,82.79L398.18,82.12L399.34,81.45L400.50,80.77L401.65,80.09L402.81,79.40L403.96,78.71L405.10,78.01L406.25,77.31L407.39,76.61L408.53,75.90L409.66,75.18L410.79,74.46L411.92,73.75L413.06,73.03L414.19,72.32L415.33,71.61L416.47,70.91L417.62,70.22L418.77,69.54L419.93,68.87L421.10,68.22L422.28,67.58L423.46,66.95L424.65,66.32L425.84,65.70L427.03,65.08L428.22,64.46L429.41,63.83L430.59,63.20L431.77,62.55L432.94,61.90L434.11,61.24L435.28,60.57L436.44,59.89L437.60,59.21L438.76,58.53L439.91,57.83L441.06,57.14L442.21,56.44L443.36,55.73L444.50,55.02L445.64,54.31L446.79,53.59L447.93,52.88L449.07,52.16L450.21,51.44L451.35,50.72L452.48,50.00L453.62,49.28L454.76,48.57L455.90,47.85L457.05,47.14L458.19,46.42L459.33,45.71L460.48,45.01L461.63,44.31L462.78,43.61L463.93,42.92L465.08,42.23L466.24,41.55L467.40,40.87L468.57,40.20L469.74,39.54L470.91,38.88L472.09,38.24L473.27,37.60L474.45,36.96L475.64,36.34L476.83,35.72L478.02,35.11L479.22,34.50L480.42,33.90L481.63,33.31L482.83,32.73L484.05,32.15L485.26,31.58L486.48,31.01L487.70,30.45L488.93,29.90L490.15,29.35L491.39,28.81L492.62,28.27L493.86,27.74L495.10,27.22L496.34,26.70L497.59,26.19L498.83,25.68L500.09,25.18" fill="none" stroke="#088CD4" stroke-width="2.8" stroke-linejoin="round" stroke-linecap="butt"/><path d="M78.54,328.96L79.82,328.80L81.10,328.68L82.38,328.59L83.66,328.52L84.95,328.49L86.24,328.48L87.54,328.49L88.83,328.52L90.14,328.56L91.45,328.63L92.76,328.70L94.08,328.79L95.40,328.88L96.73,328.98L98.06,329.09L99.41,329.20L100.75,329.30L102.11,329.41L103.46,329.50L104.82,329.58L106.17,329.63L107.51,329.66L108.85,329.65L110.18,329.61L111.49,329.52L112.78,329.39L114.06,329.20L115.31,328.94L116.54,328.63L117.74,328.25L118.91,327.80L120.05,327.30L121.15,326.73L122.23,326.10L123.26,325.40L124.26,324.65L125.21,323.83L126.13,322.95L127.00,322.02L127.84,321.03L128.64,320.01L129.42,318.95L130.18,317.86L130.91,316.75L131.64,315.63L132.35,314.49L133.06,313.36L133.76,312.23L134.47,311.10L135.17,309.98L135.87,308.85L136.57,307.74L137.28,306.62L137.99,305.51L138.70,304.41L139.42,303.31L140.15,302.22L140.89,301.14L141.63,300.06L142.39,298.99L143.15,297.94L143.93,296.88L144.71,295.84L145.51,294.80L146.31,293.77L147.11,292.75L147.93,291.73L148.75,290.71L149.57,289.70L150.40,288.69L151.24,287.69L152.08,286.69L152.92,285.69L153.76,284.69L154.60,283.69L155.45,282.69L156.29,281.70L157.14,280.70L157.98,279.70L158.83,278.70L159.67,277.70L160.50,276.69L161.34,275.68L162.17,274.67L162.99,273.66L163.81,272.64L164.62,271.61L165.43,270.58L166.23,269.54L167.02,268.50L167.80,267.45L168.58,266.39L169.35,265.32L170.11,264.26L170.87,263.19L171.63,262.11L172.38,261.04L173.14,259.97L173.90,258.90L174.66,257.84L175.43,256.78L176.20,255.72L176.98,254.68L177.77,253.64L178.57,252.61L179.39,251.59L180.21,250.58L181.04,249.59L181.88,248.60L182.74,247.62L183.61,246.65L184.49,245.70L185.38,244.75L186.28,243.81L187.19,242.89L188.12,241.97L189.05,241.06L189.99,240.15L190.93,239.26L191.89,238.36L192.84,237.47L193.80,236.58L194.76,235.69L195.72,234.80L196.68,233.91L197.64,233.02L198.59,232.12L199.55,231.23L200.49,230.32L201.43,229.41L202.37,228.49L203.29,227.57L204.21,226.63L205.11,225.69L206.01,224.74L206.90,223.77L207.78,222.81L208.65,221.83L209.52,220.85L210.38,219.87L211.24,218.88L212.10,217.89L212.95,216.89L213.81,215.90L214.66,214.90L215.51,213.91L216.37,212.92L217.22,211.93L218.08,210.95L218.95,209.96L219.82,208.99L220.70,208.02L221.58,207.06L222.47,206.10L223.37,205.16L224.28,204.22L225.20,203.29L226.13,202.38L227.06,201.47L228.01,200.57L228.96,199.68L229.93,198.80L230.89,197.92L231.87,197.05L232.85,196.18L233.83,195.32L234.82,194.47L235.82,193.62L236.81,192.77L237.81,191.92L238.81,191.08L239.81,190.23L240.82,189.39L241.82,188.55L242.82,187.70L243.82,186.86L244.82,186.02L245.82,185.17L246.82,184.32L247.81,183.46L248.80,182.60L249.78,181.74L250.76,180.87L251.73,180.00L252.70,179.12L253.67,178.24L254.63,177.36L255.59,176.47L256.55,175.58L257.50,174.69L258.45,173.80L259.41,172.90L260.36,172.00L261.31,171.11L262.26,170.21L263.21,169.32L264.16,168.42L265.11,167.53L266.07,166.64L267.02,165.75L267.98,164.86L268.94,163.98L269.91,163.09L270.87,162.22L271.85,161.35L272.82,160.48L273.80,159.61L274.79,158.76L275.78,157.90L276.78,157.06L277.78,156.22L278.78,155.38L279.79,154.55L280.80,153.72L281.82,152.89L282.84,152.07L283.86,151.25L284.88,150.44L285.91,149.62L286.94,148.81L287.97,148.01L289.01,147.20L290.04,146.40L291.08,145.60L292.12,144.79L293.15,144.00L294.19,143.20L295.23,142.40L296.27,141.60L297.31,140.80L298.35,140.00L299.39,139.21L300.42,138.41L301.46,137.61L302.49,136.81L303.53,136.00L304.56,135.20L305.59,134.40L306.62,133.60L307.65,132.79L308.69,131.99L309.72,131.19L310.75,130.39L311.78,129.59L312.82,128.79L313.85,128.00L314.89,127.20L315.92,126.41L316.96,125.62L318.00,124.83L319.04,124.04L320.09,123.26L321.13,122.47L322.18,121.70L323.23,120.92L324.28,120.15L325.34,119.38L326.40,118.61L327.46,117.85L328.52,117.09L329.58,116.34L330.65,115.58L331.72,114.83L332.79,114.09L333.87,113.34L334.94,112.60L336.02,111.87L337.11,111.13L338.19,110.40L339.27,109.68L340.36,108.95L341.45,108.23L342.54,107.51L343.64,106.80L344.74,106.09L345.84,105.38L346.94,104.68L348.04,103.98L349.14,103.28L350.25,102.59L351.36,101.90L352.47,101.21L353.59,100.53L354.70,99.85L355.82,99.17L356.94,98.50L358.06,97.82L359.19,97.16L360.31,96.49L361.44,95.83L362.57,95.17L363.70,94.52L364.83,93.86L365.96,93.21L367.09,92.56L368.23,91.91L369.36,91.26L370.50,90.62L371.64,89.97L372.78,89.33L373.92,88.69L375.06,88.05L376.19,87.41L377.33,86.77L378.48,86.13L379.62,85.49L380.76,84.85L381.90,84.21L383.04,83.57L384.18,82.93L385.32,82.30L386.46,81.66L387.60,81.01L388.73,80.37L389.87,79.73L391.01,79.09L392.15,78.44L393.28,77.80L394.42,77.15L395.55,76.51L396.69,75.86L397.82,75.21L398.96,74.56L400.09,73.91L401.22,73.26L402.36,72.61L403.49,71.96L404.62,71.31L405.75,70.65L406.88,70.00L408.01,69.35L409.14,68.69L410.27,68.04L411.40,67.38L412.53,66.72L413.66,66.07L414.79,65.41L415.92,64.75L417.05,64.09L418.18,63.43L419.31,62.77L420.43,62.11L421.56,61.45L422.69,60.79L423.81,60.13L424.94,59.46L426.07,58.80L427.19,58.14L428.32,57.47L429.45,56.81L430.57,56.15L431.70,55.48L432.83,54.82L433.95,54.15L435.08,53.49L436.20,52.82L437.33,52.16L438.45,51.49L439.58,50.83L440.70,50.16L441.83,49.50L442.95,48.83L444.08,48.17L445.20,47.50L446.33,46.84L447.46,46.17L448.58,45.51L449.71,44.84L450.83,44.18L451.96,43.51L453.08,42.85L454.21,42.19L455.33,41.52L456.46,40.86L457.58,40.20L458.71,39.54L459.84,38.88L460.96,38.22L462.09,37.56L463.22,36.90L464.35,36.24L465.47,35.59L466.61,34.93L467.74,34.28L468.87,33.64L470.01,33.00L471.15,32.36L472.29,31.72L473.43,31.09L474.58,30.47L475.73,29.85L476.88,29.24L478.04,28.63L479.20,28.03L480.37,27.43L481.54,26.85L482.71,26.27L483.89,25.70L485.08,25.13" fill="none" stroke="#FF0000" stroke-width="2.8" stroke-linejoin="round" stroke-linecap="butt"/></g>
<g style="will-change:transform"><text x="64" y="337.1" text-anchor="end" class="t">0</text><text x="64" y="250.1" text-anchor="end" class="t">0.2</text><text x="64" y="163.1" text-anchor="end" class="t">0.4</text><text x="64" y="76.1" text-anchor="end" class="t">0.6</text><text x="78.5" y="357" text-anchor="middle" class="t">0</text><text x="188.5" y="357" text-anchor="middle" class="t">0.2</text><text x="298.5" y="357" text-anchor="middle" class="t">0.4</text><text x="408.5" y="357" text-anchor="middle" class="t">0.6</text><text x="518.5" y="357" text-anchor="middle" class="t">0.8</text><text x="302.9" y="376.1" text-anchor="middle" class="ti">Time [ms]</text><text transform="translate(35.1,180.7) rotate(-90)" x="0" y="0" text-anchor="middle" class="ti">Current [A]</text>
<line x1="52.2" y1="393.7" x2="84.8" y2="393.7" stroke="#005FBF" stroke-width="2.5" stroke-linecap="round"/><text transform="translate(88.6,398) scale(0.94,1)" class="lg">100%</text><line x1="138.2" y1="393.7" x2="170.4" y2="393.7" stroke="#FF6D0C" stroke-width="2.5" stroke-linecap="round"/><text transform="translate(174.2,398) scale(0.94,1)" class="lg">80%</text><line x1="216.79999999999998" y1="393.7" x2="248.4" y2="393.7" stroke="#00A53C" stroke-width="2.5" stroke-linecap="round"/><text transform="translate(252.2,398) scale(0.94,1)" class="lg">50%</text><line x1="294.8" y1="393.7" x2="326.40000000000003" y2="393.7" stroke="#FFB600" stroke-width="2.5" stroke-linecap="round"/><text transform="translate(330.20000000000005,398) scale(0.94,1)" class="lg">30%</text><line x1="373.2" y1="393.7" x2="404.8" y2="393.7" stroke="#088CD4" stroke-width="2.5" stroke-linecap="round"/><text transform="translate(408.6,398) scale(0.94,1)" class="lg">20%</text><line x1="451.2" y1="393.7" x2="482.8" y2="393.7" stroke="#FF0000" stroke-width="2.5" stroke-linecap="round"/><text transform="translate(486.6,398) scale(0.94,1)" class="lg">0%</text></g>
<line x1="3.3" y1="4" x2="546" y2="4" stroke="#4BC3F1" stroke-width="1.8"/><line x1="4.2" y1="3.2" x2="4.2" y2="415.3" stroke="#18AEF6" stroke-width="1.6"/><line x1="545.3" y1="3.2" x2="545.3" y2="415.3" stroke="#08ADF0" stroke-width="1.6"/><line x1="3.3" y1="414.5" x2="546" y2="414.5" stroke="#03A8E8" stroke-width="1.7"/>
</svg>
</body></html>
